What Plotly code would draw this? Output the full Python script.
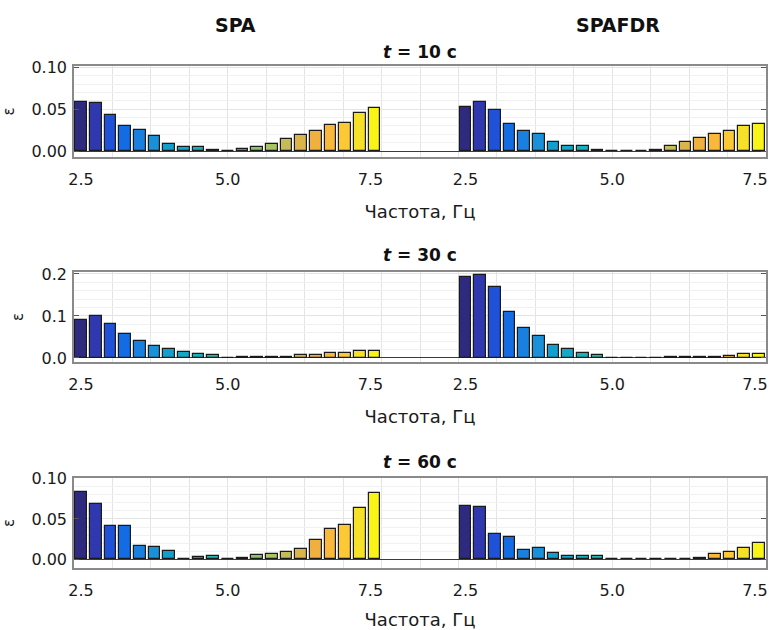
import plotly.graph_objects as go

# ---- data -------------------------------------------------------------
freq = [2.5, 2.75, 3.0, 3.25, 3.5, 3.75, 4.0, 4.25, 4.5, 4.75, 5.0,
        5.25, 5.5, 5.75, 6.0, 6.25, 6.5, 6.75, 7.0, 7.25, 7.5]

spa_10 = [0.0588, 0.057, 0.0436, 0.030, 0.0256, 0.0184, 0.0088, 0.0052, 0.005, 0.0015, 0.0003,
          0.003, 0.005, 0.008, 0.0144, 0.0188, 0.0244, 0.031, 0.033, 0.0456, 0.051]
spafdr_10 = [0.0528, 0.0588, 0.0488, 0.0328, 0.024, 0.0204, 0.0104, 0.0056, 0.0056, 0.001, 0.0004,
             0.0003, 0.0003, 0.001, 0.006, 0.011, 0.016, 0.020, 0.0236, 0.0296, 0.0328]

spa_30 = [0.090, 0.101, 0.080, 0.0576, 0.040, 0.029, 0.0216, 0.0136, 0.0096, 0.0064, 0.001,
          0.0024, 0.003, 0.0024, 0.003, 0.0064, 0.008, 0.011, 0.0128, 0.0168, 0.0168]
spafdr_30 = [0.192, 0.1976, 0.168, 0.110, 0.071, 0.053, 0.032, 0.021, 0.0128, 0.0064, 0.0005,
             0.0008, 0.0008, 0.001, 0.0012, 0.002, 0.0025, 0.003, 0.0056, 0.0088, 0.0096]

spa_60 = [0.0839, 0.0686, 0.0417, 0.0417, 0.017, 0.0153, 0.0099, 0.0005, 0.0033, 0.0045, 0.0003,
          0.0012, 0.0054, 0.007, 0.009, 0.0132, 0.0236, 0.0376, 0.042, 0.064, 0.0818]
spafdr_60 = [0.066, 0.0645, 0.031, 0.028, 0.0116, 0.0136, 0.0079, 0.0037, 0.0037, 0.004, 0.0003,
             0.0006, 0.0006, 0.0006, 0.0006, 0.0006, 0.002, 0.0066, 0.0087, 0.0136, 0.0198]

times = ["10", "30", "60"]
method_names = ["SPA", "SPAFDR"]
x_ticktext = ["2.5", "5.0", "7.5"]
y_ticks = [[0.0, 0.05, 0.10], [0.0, 0.1, 0.2], [0.0, 0.05, 0.10]]
y_ticktext = [["0.00", "0.05", "0.10"], ["0.0", "0.1", "0.2"], ["0.00", "0.05", "0.10"]]

# ---- style / layout ---------------------------------------------------
bar_colors = ["#2e2a80", "#3038b0", "#1f52d8", "#146ce4", "#1a80e0", "#1a90d8", "#129fd0",
              "#12a8c8", "#18b0bc", "#22b8b0", "#3cbc98", "#60c080", "#88c470", "#a8c464",
              "#c4bc58", "#dcb44c", "#f0b040", "#fab83a", "#fcc834", "#f6e028", "#f8f418"]
x_tick_pos = [2.5, 5.0, 7.43]   # where the reference prints its frequency labels
SHIFT = 6.55            # horizontal offset of the SPAFDR block on the shared axis
XMIN, XMAX = 2.38, 14.17
grid_step = (XMAX - XMIN) / 18
x_grid = [XMIN + k * grid_step for k in range(1, 18)]
y_ranges = [[-0.007, 0.1015], [-0.0096, 0.2046], [-0.011, 0.101]]
y_minor = [0.01, 0.02, 0.01]

W, H = 769, 630
ML, MR = 74, W - 766
PW = W - ML - MR


def py(px):      # pixel row -> paper y
    return 1 - px / H


def pxx(px):     # pixel column -> paper x
    return (px - ML) / PW


box_px = [(66, 157), (272, 362), (478, 568)]
y_domains = [[py(b), py(t)] for t, b in box_px]
title_px = [52, 255, 462]
FONT = "DejaVu Sans"

rows = [(spa_10, spafdr_10), (spa_30, spafdr_30), (spa_60, spafdr_60)]

fig = go.Figure()
for i, (a, b) in enumerate(rows):
    sfx = "" if i == 0 else str(i + 1)
    for vals, xs in ((a, freq), (b, [f + SHIFT for f in freq])):
        fig.add_trace(go.Bar(
            x=xs, y=vals, width=0.2,
            marker=dict(color=bar_colors, line=dict(color="#1a1a1a", width=1.2)),
            xaxis="x" + sfx, yaxis="y" + sfx, showlegend=False, hoverinfo="x+y"))

layout = dict(
    width=W, height=H,
    margin=dict(l=ML, r=MR, t=0, b=0, pad=0, autoexpand=False),
    paper_bgcolor="white", plot_bgcolor="white",
    font=dict(family=FONT, color="#1a1a1a"),
    bargap=0, annotations=[],
)

for i in range(3):
    sfx = "" if i == 0 else str(i + 1)
    layout["xaxis" + sfx] = dict(
        domain=[0, 1], anchor="y" + sfx, range=[XMIN, XMAX], automargin=False,
        tickvals=x_tick_pos + [v + SHIFT for v in x_tick_pos],
        ticktext=x_ticktext + x_ticktext,
        ticks="", showgrid=False, zeroline=False,
        showline=True, mirror=True, linecolor="#8a8a8a", linewidth=1.5,
        tickfont=dict(size=16, family=FONT, color="#1a1a1a"),
        ticklabelstandoff=7, ticklabeloverflow="allow",
        minor=dict(tickvals=x_grid, showgrid=True, gridcolor="#e4e4e4", gridwidth=1, ticks=""),
        title=dict(text="Частота, Гц", font=dict(size=18, family=FONT, color="#1a1a1a"),
                   standoff=17),
    )
    layout["yaxis" + sfx] = dict(
        domain=y_domains[i], anchor="x" + sfx, range=y_ranges[i], automargin=False,
        tickvals=y_ticks[i], ticktext=y_ticktext[i],
        ticks="inside", ticklen=5, tickcolor="#555", tickwidth=1,
        showline=True, mirror="ticks", linecolor="#8a8a8a", linewidth=1.5,
        showgrid=True, gridcolor="#e4e4e4", gridwidth=1,
        minor=dict(dtick=y_minor[i], showgrid=True, gridcolor="#f1f1f1", gridwidth=1, ticks=""),
        zeroline=True, zerolinecolor="#3a3a3a", zerolinewidth=1,
        tickfont=dict(size=16, family=FONT, color="#1a1a1a"),
        ticklabelstandoff=2,
        title=dict(text="ε", font=dict(size=15, family=FONT, color="#1a1a1a"), standoff=14),
    )
    layout["annotations"].append(dict(
        text="<b><i>t</i> = " + times[i] + " с</b>", xref="paper", yref="paper",
        x=0.5, y=py(title_px[i]), xanchor="center", yanchor="middle", showarrow=False,
        font=dict(size=17, family=FONT, color="#111")))

for name, xp in zip(method_names, [235, 618]):
    layout["annotations"].append(dict(
        text="<b>" + name + "</b>", xref="paper", yref="paper", x=pxx(xp), y=py(25),
        xanchor="center", yanchor="middle", showarrow=False,
        font=dict(size=19, family=FONT, color="#111")))

fig.update_layout(**layout)
fig.write_html(
    "out.html",
    config={"displayModeBar": False},
    post_script="document.body.style.margin='0';document.body.style.overflow='hidden';",
)
